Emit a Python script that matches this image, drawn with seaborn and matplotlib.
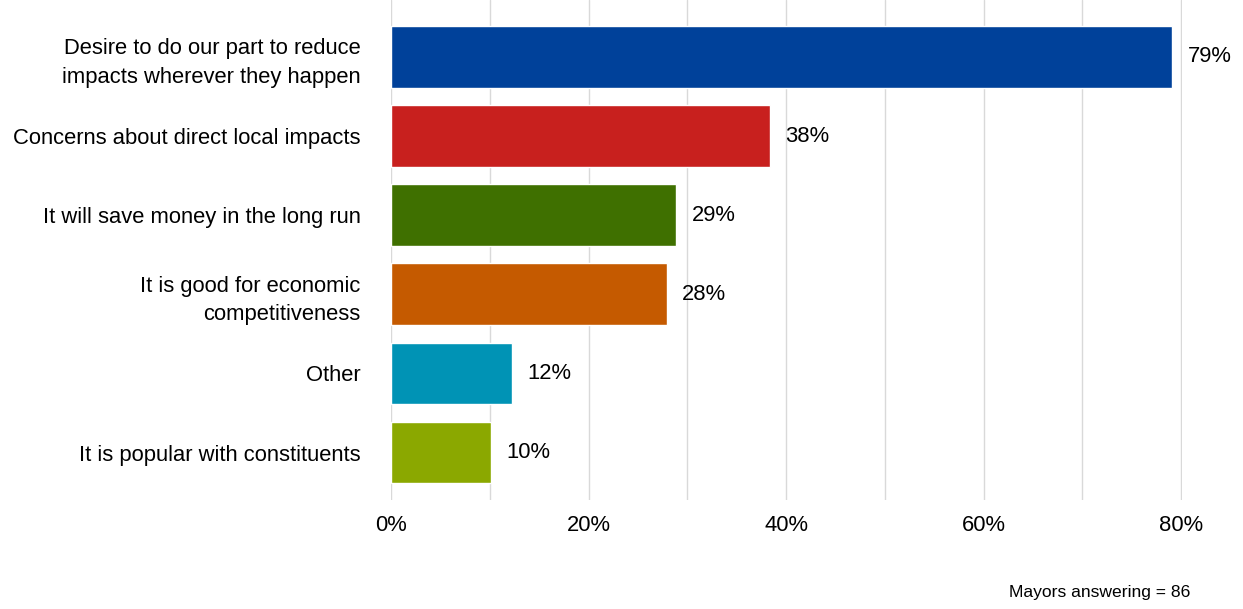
import numpy as np
import pandas as pd
import matplotlib.pyplot as plt
import seaborn as sns

sns.set_style("white")
plt.rcParams['font.family'] = ['Liberation Sans', 'DejaVu Sans']
plt.rcParams['text.color'] = 'black'
plt.rcParams['xtick.color'] = 'black'
plt.rcParams['ytick.color'] = 'black'

categories = [
    "Desire to do our part to reduce\nimpacts wherever they happen",
    "Concerns about direct local impacts",
    "It will save money in the long run",
    "It is good for economic\ncompetitiveness",
    "Other",
    "It is popular with constituents",
]
shares = [79.1, 38.4, 28.9, 27.9, 12.3, 10.1]
labels = ["79%", "38%", "29%", "28%", "12%", "10%"]
colors = ["#00419A", "#C8201E", "#3F7000", "#C55A00", "#0093B5", "#8BA800"]

df = pd.DataFrame({"reason": categories, "share": shares})

fig = plt.figure(figsize=(12.43, 6.09), dpi=100)
ax = fig.add_axes([391 / 1243, 1 - 500 / 609, 791 / 1243, 500 / 609])

sns.barplot(data=df, y="reason", x="share", hue="reason", palette=colors,
            legend=False, width=0.78, saturation=1, ax=ax)

for cont, lab in zip(ax.containers, labels):
    ax.bar_label(cont, labels=[lab], padding=11, fontsize=15.8, clip_on=False)

ax.set_xlim(0, 80.1)
ax.set_ylim(5.6, -0.72)
ax.set_xticks(np.arange(0, 81, 20))
ax.set_xticks(np.arange(10, 80, 20), minor=True)
ax.set_xticklabels([f"{v}%" for v in range(0, 81, 20)])
ax.grid(axis="x", which="both", color="#D9D9D9", linewidth=1)
ax.set_axisbelow(True)
ax.tick_params(axis="x", which="both", length=0, labelsize=15.8, pad=11)
ax.tick_params(axis="y", length=0, labelsize=15.8, pad=22)
for lab in ax.get_yticklabels():
    lab.set_horizontalalignment("right")
    lab.set_multialignment("right")
    lab.set_linespacing(1.45)
ax.set_xlabel("")
ax.set_ylabel("")
for s in ax.spines.values():
    s.set_visible(False)

fig.text(1190 / 1243, 1 - 593 / 609, "Mayors answering = 86", ha="right",
         va="center", fontsize=12.6)

fig.savefig("out.png", dpi=100)
